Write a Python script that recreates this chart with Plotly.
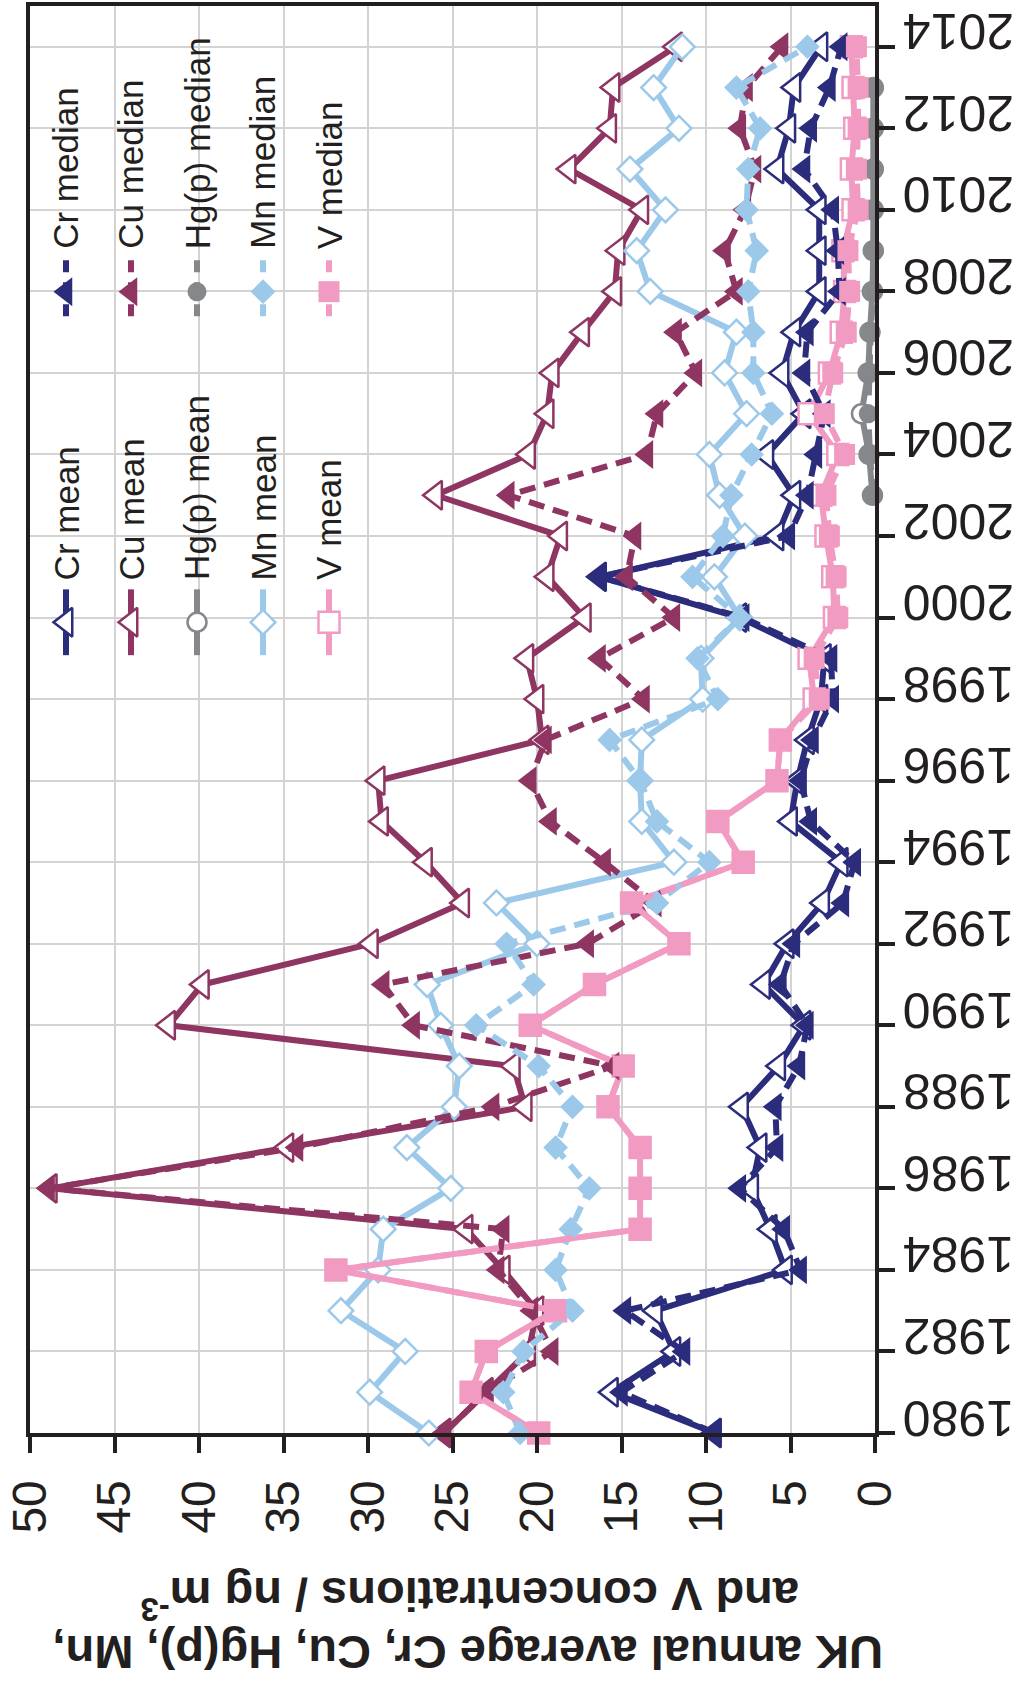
import plotly.graph_objects as go

# Annual values, 1980-2014 (ng m-3)
years = list(range(1980, 2015))
hg_years = list(range(2003, 2014))

cr_mean = [9.5, 15.6, 11.9, 13.0, 5.3, 6.2, 7.3, 6.8, 7.9, 5.7, 4.2, 6.6, 5.2, 3.1, 2.0, 5.0, 4.6, 4.0,
           3.2, 3.0, 8.0, 16.3, 5.8, 4.8, 6.4, 4.2, 5.5, 4.8, 3.3, 3.3, 3.3, 5.8, 5.1, 4.8, 3.2]
cr_median = [9.5, 15.0, 11.3, 14.8, 4.4, 5.4, 8.0, 5.8, 5.9, 4.5, 4.0, 5.6, 4.8, 1.9, 1.2, 3.8, 4.4, 3.7,
             2.5, 2.6, 7.8, 16.3, 5.1, 4.0, 3.5, 3.0, 4.2, 4.0, 2.1, 2.2, 2.5, 4.2, 3.8, 2.7, 2.0]
cu_mean = [25.5, 23.0, 20.5, 20.0, 22.0, 24.2, 48.8, 34.8, 20.7, 21.4, 41.8, 39.8, 29.8, 24.4, 26.6, 29.2,
           29.4, 19.7, 20.0, 20.6, 17.2, 19.4, 18.6, 26.0, 20.5, 19.4, 19.1, 17.3, 15.4, 15.2, 13.8, 18.1,
           15.7, 15.5, 11.8]
cu_median = [25.5, 23.0, 19.1, 20.3, 22.3, 22.0, 48.9, 34.2, 22.6, 15.5, 27.3, 29.1, 17.0, 13.0, 16.0, 19.2,
             20.4, 19.5, 13.7, 16.3, 11.9, 14.7, 14.2, 21.7, 13.5, 12.9, 10.6, 11.8, 8.2, 8.9, 7.7, 7.1,
             8.0, 7.6, 5.5]
hg_mean = [0.15, 0.35, 0.8, 0.4, 0.3, 0.15, 0.1, 0.1, 0.1, 0.1, 0.1]
hg_median = [0.1, 0.3, 0.4, 0.35, 0.25, 0.1, 0.05, 0.05, 0.05, 0.05, 0.05]
mn_mean = [26.4, 29.9, 27.8, 31.6, 29.4, 29.1, 25.1, 27.7, 24.9, 24.6, 25.7, 26.5, 20.0, 22.4, 11.9, 13.8,
           13.9, 13.8, 10.2, 10.3, 8.0, 9.5, 7.7, 9.2, 9.8, 7.6, 8.9, 8.2, 13.3, 14.1, 12.4, 14.5, 11.6,
           13.1, 11.4]
mn_median = [21.0, 22.0, 20.8, 17.9, 18.9, 18.0, 16.9, 18.9, 17.9, 19.9, 23.6, 20.2, 21.8, 12.9, 9.8, 12.9,
             13.9, 15.7, 9.3, 10.5, 8.0, 10.8, 9.0, 8.5, 7.3, 6.1, 7.2, 7.2, 7.5, 7.0, 7.6, 7.5, 6.8, 8.2,
             4.0]
v_mean = [19.9, 23.9, 23.0, 18.9, 31.9, 13.9, 13.9, 13.9, 15.8, 14.9, 20.4, 16.6, 11.6, 14.4, 7.8, 9.3,
          5.8, 5.6, 3.6, 3.9, 2.4, 2.5, 2.9, 3.2, 2.2, 3.9, 2.7, 2.0, 1.8, 1.9, 1.3, 1.4, 1.2, 1.3, 1.4]
v_median = [19.9, 23.9, 23.0, 18.9, 31.9, 13.9, 13.9, 13.9, 15.8, 14.9, 20.4, 16.6, 11.6, 14.4, 7.8, 9.3,
            5.8, 5.6, 3.3, 3.6, 2.2, 2.3, 2.7, 2.9, 1.8, 3.0, 2.5, 1.7, 1.5, 1.6, 1.0, 1.1, 1.0, 1.0, 1.1]

year_ticks = list(range(1980, 2015, 2))
value_ticks = list(range(0, 51, 5))

FONT = "Liberation Sans, Arial, sans-serif"
W, H = 1017, 1686
L, R, T, B = 30, 875, 2, 1433  # plot area in pixels

series = [
    # name, colour, symbol, size, years, mean, median
    ("Cr", "#2b2c7c", "triangle-left", 25, years, cr_mean, cr_median),
    ("Cu", "#8f3562", "triangle-left", 25, years, cu_mean, cu_median),
    ("Hg(p)", "#85878b", "circle", 19, hg_years, hg_mean, hg_median),
    ("Mn", "#9cc8ea", "diamond", 19, years, mn_mean, mn_median),
    ("V", "#f29bc2", "square", 21, years, v_mean, v_median),
]
DASH = "16px,9px"
LW = 6

fig = go.Figure()

# means: solid lines, open markers
for name, col, sym, size, yrs, mean, med in series:
    fig.add_trace(go.Scatter(
        x=mean, y=yrs, mode="lines+markers", name=f"{name} mean",
        line=dict(color=col, width=LW),
        marker=dict(symbol=sym, size=size, color="white", line=dict(color=col, width=2.5)),
        cliponaxis=False, showlegend=False))

# medians: dashed lines, filled markers
for name, col, sym, size, yrs, mean, med in series:
    fig.add_trace(go.Scatter(
        x=med, y=yrs, mode="lines+markers", name=f"{name} median",
        line=dict(color=col, width=LW, dash=DASH),
        marker=dict(symbol=sym, size=size, color=col, line=dict(color=col, width=0)),
        cliponaxis=False, showlegend=False))


def px_x(x):
    return (x - L) / (R - L)


def px_y(y):
    return (B - y) / (B - T)


# legend drawn as two columns of vertical entries
leg_x = [66, 131, 197, 263, 329]
columns = [("mean", 587, 653, 580, False), ("median", 257, 320, 248, True)]
annotations = []
for label, y_top, y_bot, text_bot, dashed in columns:
    for (name, col, sym, size, *_), lx in zip(series, leg_x):
        fig.add_trace(go.Scatter(
            x=[px_x(lx), px_x(lx), px_x(lx)],
            y=[px_y(y_top), px_y((y_top + y_bot) / 2), px_y(y_bot)],
            xaxis="x2", yaxis="y2", mode="lines",
            line=dict(color=col, width=LW, dash="12px,10px" if dashed else "solid"),
            cliponaxis=False, showlegend=False, hoverinfo="skip"))
        fig.add_trace(go.Scatter(
            x=[px_x(lx)], y=[px_y((y_top + y_bot) / 2)],
            xaxis="x2", yaxis="y2", mode="markers",
            marker=dict(symbol=sym, size=size,
                        color=col if dashed else "white",
                        line=dict(color=col, width=0 if dashed else 2.5)),
            cliponaxis=False, showlegend=False, hoverinfo="skip"))
        annotations.append(dict(
            x=px_x(lx), y=px_y(text_bot), xref="paper", yref="paper",
            text=f"{name} {label}", textangle=-90, showarrow=False,
            xanchor="center", yanchor="bottom",
            font=dict(family=FONT, size=35, color="#231f20")))

# axis title, upside down, two lines
annotations.append(dict(
    x=px_x(468), y=px_y(1653), xref="paper", yref="paper",
    text="<b>UK annual average Cr, Cu, Hg(p), Mn,</b>", textangle=180, showarrow=False,
    xanchor="center", yanchor="middle", font=dict(family=FONT, size=47, color="#231f20")))
annotations.append(dict(
    x=px_x(470), y=px_y(1599), xref="paper", yref="paper",
    text="<b>and V concentrations / ng m<sup>-3</sup></b>", textangle=180, showarrow=False,
    xanchor="center", yanchor="middle", font=dict(family=FONT, size=47, color="#231f20")))

axis_common = dict(
    showline=True, linecolor="#231f20", linewidth=4, mirror=True,
    ticks="outside", ticklen=16, tickwidth=4, tickcolor="#231f20",
    showgrid=True, gridcolor="#d3d3d3", gridwidth=1.5, zeroline=False,
)

fig.update_layout(
    width=W, height=H,
    margin=dict(l=L, r=W - R, t=T, b=H - B),
    paper_bgcolor="white", plot_bgcolor="rgba(0,0,0,0)",
    xaxis=dict(range=[50, 0], tickvals=value_ticks, tickangle=-90, ticklabelstandoff=8,
               tickfont=dict(family=FONT, size=48, color="#231f20"), **axis_common),
    yaxis=dict(range=[1980, 2015], tickvals=year_ticks, tickangle=180, side="right",
               ticklabelstandoff=109,
               tickfont=dict(family=FONT, size=50, color="#231f20"), **axis_common),
    xaxis2=dict(overlaying="x", anchor="y2", range=[0, 1], visible=False, fixedrange=True),
    yaxis2=dict(overlaying="y", anchor="x2", range=[0, 1], visible=False, fixedrange=True),
    annotations=annotations,
    showlegend=False,
)

fig.write_html("out.html")
